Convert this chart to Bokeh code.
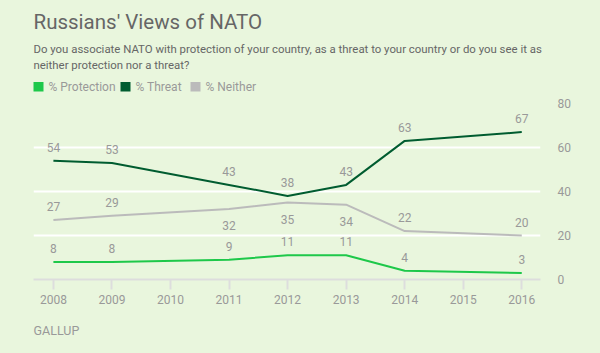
from bokeh.plotting import figure
from bokeh.models import (LinearAxis, FixedTicker, Range1d, Grid, Title)
from bokeh.layouts import column
from bokeh.core.properties import value
from bokeh.embed import file_html
from bokeh.resources import INLINE

years = [2008, 2009, 2011, 2012, 2013, 2014, 2016]
protection = [8, 8, 9, 11, 11, 4, 3]
threat = [54, 53, 43, 38, 43, 63, 67]
neither = [27, 29, 32, 35, 34, 22, 20]
neither_pos = ["above", "above", "below", "below", "below", "above", "above"]
x_ticks = [2008, 2009, 2010, 2011, 2012, 2013, 2014, 2015, 2016]
y_ticks = [0, 20, 40, 60, 80]

title = "Russians' Views of NATO"
subtitle1 = "Do you associate NATO with protection of your country, as a threat to your country or do you see it as"
subtitle2 = "neither protection nor a threat?"
series_names = ["% Protection", "% Threat", "% Neither"]
colors = ["#1ec84a", "#005c30", "#bbbbbb"]
source_note = "GALLUP"

BG = "#e9f6dd"
FONT = "Roboto"
HEAD_H = 93
W = 600
MAIN_H = 353 - HEAD_H

# ---------- header figure (frame == whole canvas, y grows downward) ----------
h = figure(width=W, height=HEAD_H, output_backend="svg", toolbar_location=None,
           x_range=Range1d(0, W), y_range=Range1d(HEAD_H, 0),
           x_axis_location=None, y_axis_location=None,
           min_border=0, min_border_left=0, min_border_right=0,
           min_border_top=0, min_border_bottom=0)
h.frame_align = False
h.background_fill_color = BG
h.border_fill_color = BG
h.outline_line_color = None
h.grid.visible = False

h.text(x=[33], y=[21], text=[title], text_font=value(FONT), text_font_size="20.5px",
       text_color="#666666", text_baseline="middle", text_align="left")
h.text(x=[33, 33], y=[48, 64], text=[subtitle1, subtitle2], text_font=value(FONT),
       text_font_size="11.4px", text_color="#666666", text_baseline="middle", text_align="left")

leg_x = [33, 120, 190]
h.quad(left=leg_x, right=[v + 10 for v in leg_x], top=[81.5] * 3, bottom=[91] * 3,
       fill_color=colors, line_color=None)
h.text(x=[v + 15 for v in leg_x], y=[86.5] * 3, text=series_names, text_font=value(FONT),
       text_font_size="12px", text_color="#999999", text_baseline="middle", text_align="left")

# ---------- main chart ----------
p = figure(width=W, height=MAIN_H, output_backend="svg", toolbar_location=None,
           x_range=Range1d(2007.66, 2016.32), y_range=Range1d(0, 80),
           x_axis_location="below", y_axis_location=None,
           min_border_left=33, min_border_right=60, min_border_top=103 - HEAD_H,
           min_border_bottom=74)
p.frame_align = False
p.background_fill_color = BG
p.border_fill_color = BG
p.outline_line_color = None

xa = p.xaxis[0]
xa.ticker = FixedTicker(ticks=x_ticks)
xa.axis_line_color = "#dddddd"
xa.axis_line_width = 2
xa.major_tick_line_color = "#dddddd"
xa.major_tick_line_width = 2
xa.major_tick_in = 0
xa.major_tick_out = 10
xa.minor_tick_line_color = None
xa.major_label_text_font = FONT
xa.major_label_text_font_size = "12px"
xa.major_label_text_color = "#999999"
xa.major_label_standoff = 5

ya = LinearAxis(ticker=FixedTicker(ticks=y_ticks))
ya.axis_line_color = None
ya.major_tick_line_color = None
ya.minor_tick_line_color = None
ya.major_label_text_font = FONT
ya.major_label_text_font_size = "12px"
ya.major_label_text_color = "#999999"
ya.major_label_standoff = 11
p.add_layout(ya, "right")

p.xgrid.grid_line_color = None
p.ygrid.visible = False
p.add_layout(Grid(dimension=1, ticker=FixedTicker(ticks=y_ticks[1:]),
                  grid_line_color="white", grid_line_width=2))

for vals, c in zip([protection, threat, neither], colors):
    p.line(years, vals, line_color=c, line_width=2)

label_style = dict(text_font=value(FONT), text_font_size="12px", text_color="#999999",
                   text_align="center", text_baseline="middle")
p.text(x=years, y=protection, text=[str(v) for v in protection], y_offset=-13.5, **label_style)
p.text(x=years, y=threat, text=[str(v) for v in threat], y_offset=-13.5, **label_style)
ab = [(x, v) for x, v, s in zip(years, neither, neither_pos) if s == "above"]
be = [(x, v) for x, v, s in zip(years, neither, neither_pos) if s == "below"]
p.text(x=[a for a, b in ab], y=[b for a, b in ab], text=[str(b) for a, b in ab],
       y_offset=-13.5, **label_style)
p.text(x=[a for a, b in be], y=[b for a, b in be], text=[str(b) for a, b in be],
       y_offset=16.5, **label_style)

p.add_layout(Title(text=source_note, align="left", text_font=FONT, text_font_size="12.5px",
                   text_color="#999999", text_font_style="normal", standoff=29), "below")

layout = column(h, p, spacing=0)
layout.styles = {"background-color": BG}
open("out.html", "w").write(file_html(layout, INLINE))
